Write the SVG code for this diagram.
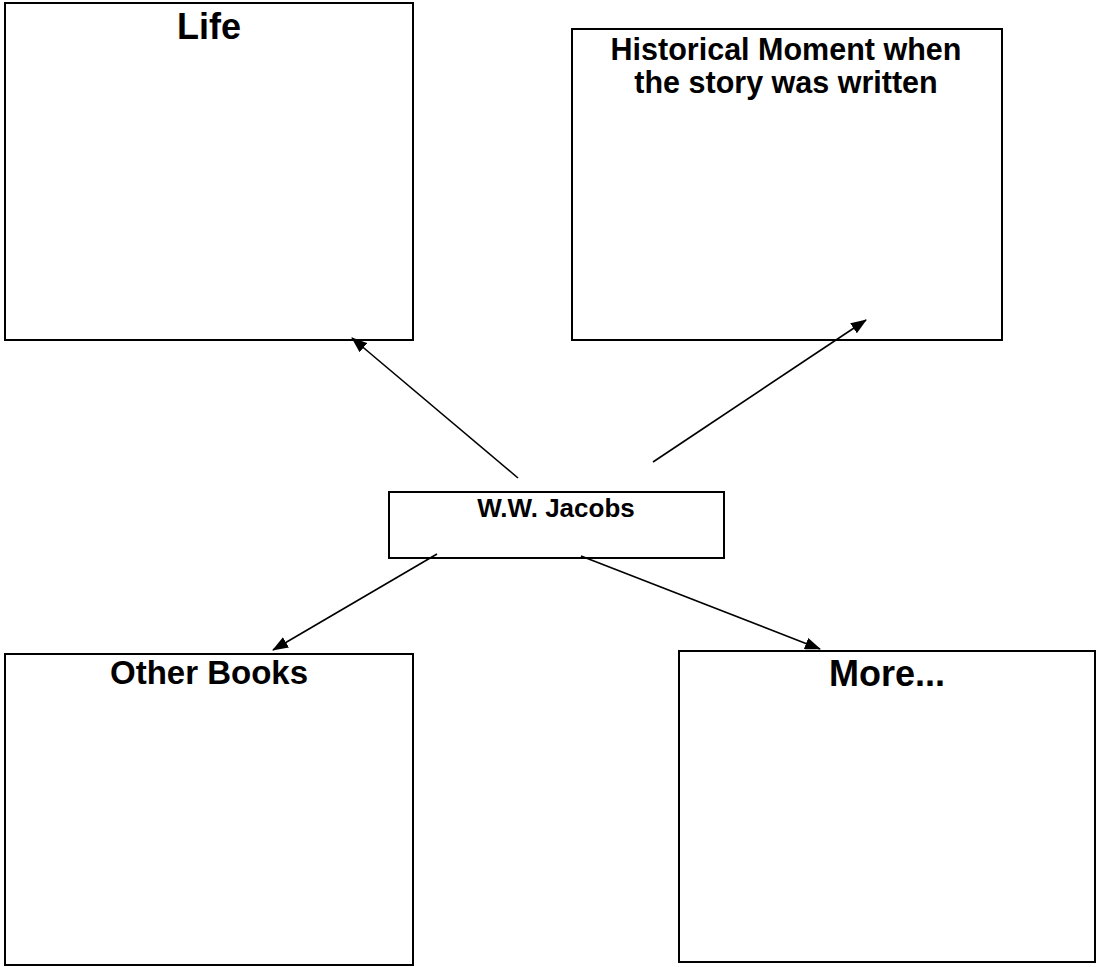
<svg xmlns="http://www.w3.org/2000/svg" width="1096" height="967" viewBox="0 0 1096 967">
  <style>
    .box { fill: #ffffff; stroke: #000000; stroke-width: 2; }
    .label { font-family: "Liberation Sans", Arial, sans-serif; font-weight: bold; fill: #000000; text-anchor: middle; }
    .link { stroke: #000000; stroke-width: 1.6; fill: none; marker-end: url(#arrow); }
  </style>
  <defs>
    <marker id="arrow" viewBox="0 0 16 12" refX="15" refY="6" markerWidth="16" markerHeight="12" markerUnits="userSpaceOnUse" orient="auto">
      <path d="M0,0 L16,6 L0,12 z" fill="#000000"/>
    </marker>
  </defs>
  <rect width="1096" height="967" fill="#ffffff"/>

  <g id="life">
    <rect class="box" x="5" y="3" width="408" height="337"/>
    <text class="label" x="209" y="39" font-size="36">Life</text>
  </g>

  <g id="historical-moment">
    <rect class="box" x="572" y="29" width="430" height="311"/>
    <text class="label" x="786" y="60" font-size="30.5">Historical Moment when</text>
    <text class="label" x="786" y="93" font-size="30.5">the story was written</text>
  </g>

  <g id="author">
    <rect class="box" x="389" y="492" width="335" height="66"/>
    <text class="label" x="556" y="517" font-size="26">W.W. Jacobs</text>
  </g>

  <g id="other-books">
    <rect class="box" x="5" y="654" width="408" height="311"/>
    <text class="label" x="209" y="684" font-size="33">Other Books</text>
  </g>

  <g id="more">
    <rect class="box" x="679" y="651" width="416" height="311"/>
    <text class="label" x="887" y="686" font-size="36">More...</text>
  </g>

  <g id="connectors">
    <line class="link" x1="518" y1="478" x2="352" y2="338"/>
    <line class="link" x1="653" y1="462" x2="866" y2="320"/>
    <line class="link" x1="437" y1="554" x2="273" y2="650"/>
    <line class="link" x1="581" y1="556" x2="820" y2="649"/>
  </g>
</svg>
